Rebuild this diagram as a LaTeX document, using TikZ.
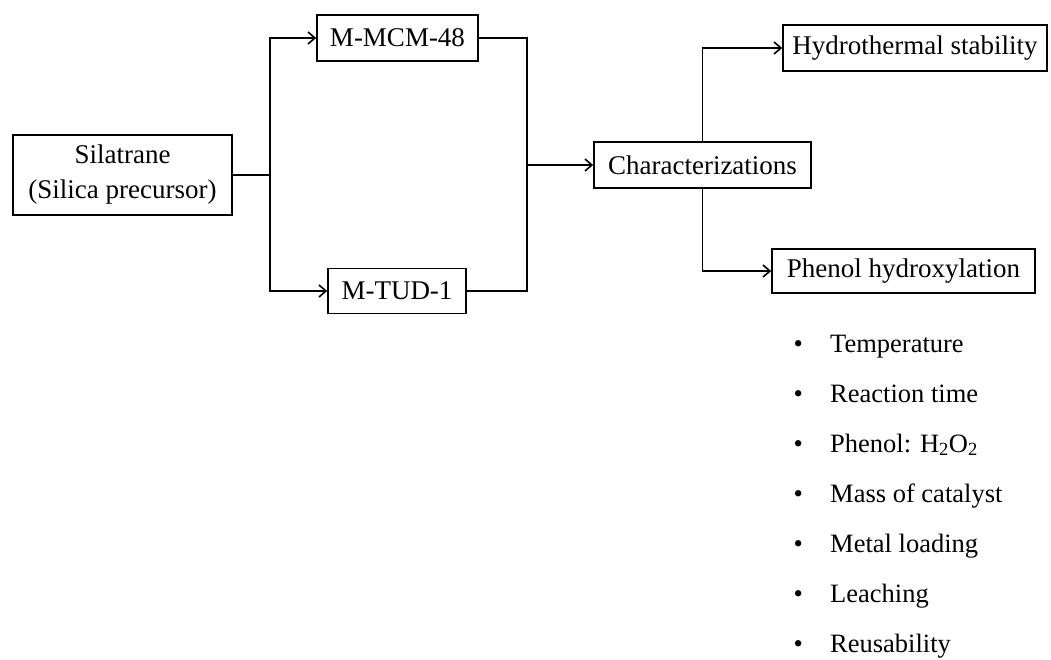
\documentclass[tikz,border=0pt]{standalone}
\usepackage{fontspec}
\setmainfont{Liberation Serif}
\usetikzlibrary{arrows.meta}
\tikzset{
  box/.style={draw, line width=1.6pt, inner sep=0pt, align=center,
    font=\fontsize{27}{35}\selectfont},
  conn/.style={line width=1.6pt},
  arr/.style={conn, -{Straight Barb[length=7pt,width=12pt,line width=1.6pt]}},
  item/.style={anchor=base west, inner sep=0pt, font=\fontsize{26.5}{35}\selectfont}
}
\begin{document}
\begin{tikzpicture}[x=1pt,y=-1pt]
\useasboundingbox (0,0) rectangle (1051,659);
% boxes
\node[box, minimum width=219pt, minimum height=80pt] (sil) at (122.5,175) {Silatrane\\(Silica precursor)};
\node[box, minimum width=161pt, minimum height=46pt] (mcm) at (397.5,38) {M-MCM-48};
\node[box, minimum width=138pt, minimum height=45pt] (tud) at (397,291) {M-TUD-1};
\node[box, minimum width=217pt, minimum height=46pt] (char) at (702.5,165) {Characterizations};
\node[box, minimum width=264pt, minimum height=46pt] (hyd) at (915,48) {Hydrothermal stability};
\node[box, minimum width=263pt, minimum height=44pt] (phe) at (903.5,271) {Phenol hydroxylation};
% junctions
\coordinate (split) at (270,175);
\coordinate (merge) at (527,165);
% connectors
\draw[conn] (sil.east) -- (split);
\draw[arr] (split) |- (mcm.west);
\draw[arr] (split) |- (tud.west);
\draw[conn] (mcm.east) -| (merge);
\draw[conn] (tud.east) -| (merge);
\draw[arr] (merge) -- (char.west);
\draw[arr] (char.north) |- (hyd.west);
\draw[arr] (char.south) |- (phe.west);
% list
\node[item] (i1) at (793.5,352) {\makebox[36.5pt][l]{\textbullet}Temperature};
\node[item] (i2) at (793.5,402) {\makebox[36.5pt][l]{\textbullet}Reaction time};
\node[item] (i3) at (793.5,452) {\makebox[36.5pt][l]{\textbullet}Phenol: H\textsubscript{2}O\textsubscript{2}};
\node[item] (i4) at (793.5,502) {\makebox[36.5pt][l]{\textbullet}Mass of catalyst};
\node[item] (i5) at (793.5,552) {\makebox[36.5pt][l]{\textbullet}Metal loading};
\node[item] (i6) at (793.5,602) {\makebox[36.5pt][l]{\textbullet}Leaching};
\node[item] (i7) at (793.5,652) {\makebox[36.5pt][l]{\textbullet}Reusability};
\end{tikzpicture}
\end{document}
